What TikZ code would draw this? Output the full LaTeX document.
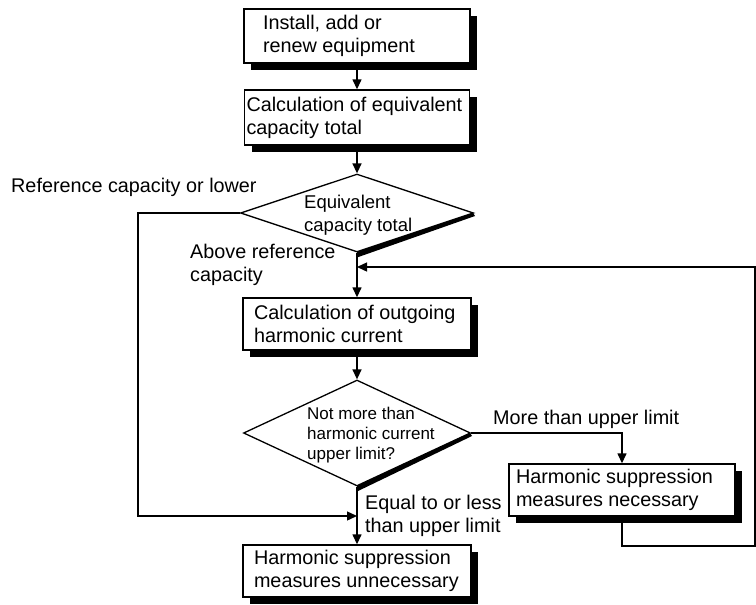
\documentclass[tikz,border=0pt]{standalone}
\usepackage{fontspec}
\setmainfont{Liberation Sans}
\usetikzlibrary{arrows.meta,shapes.geometric,shadows}
\begin{document}
\begin{tikzpicture}[x=1pt,y=-1pt,
  txt/.style={font=\fontsize{19.8}{23}\selectfont},
  box/.style={txt, draw, line width=1.4pt, fill=white, rectangle, align=flush left,
    inner ysep=0pt, general shadow={fill=black, shadow xshift=7pt, shadow yshift=-7pt}},
  dia/.style={draw, line width=1.3pt, diamond, inner sep=0pt},
  lab/.style={txt, inner sep=0pt, align=flush left},
  arr/.style={line width=1.4pt, -{Triangle[length=10pt,width=9pt]}},
  ln/.style={line width=1.4pt}]
\useasboundingbox (0,0) rectangle (756,605);

% boxes
\node[box, text width=188pt, inner xsep=19pt, minimum height=54pt] (b1) at (357,36) {Install, add or\\renew equipment};
\node[box, text width=221pt, inner xsep=2pt, minimum height=55pt] (b2) at (357,117.5) {Calculation of equivalent\\capacity total};
\node[box, text width=206pt, inner xsep=11pt, minimum height=52pt] (b3) at (357,324) {Calculation of outgoing\\harmonic current};
\node[box, text width=212pt, inner xsep=7pt, minimum height=52pt] (b4) at (622,490) {Harmonic suppression\\measures necessary};
\node[box, text width=206pt, inner xsep=11pt, minimum height=52pt] (b5) at (357,571) {Harmonic suppression\\measures unnecessary};

% diamonds
\fill (357,252) -- (473,213) -- (475,216) -- (357,257.5) -- cycle;
\node[dia, minimum width=233pt, minimum height=78pt] (d1) at (357,213) {};
\node[lab, font=\fontsize{18.5}{23}\selectfont, anchor=west] (d1t) at (304,215) {Equivalent\\capacity total};

\fill (357,486) -- (470,433) -- (472,436) -- (357,491.5) -- cycle;
\node[dia, minimum width=227pt, minimum height=106pt] (d2) at (357,433) {};
\node[lab, font=\fontsize{17}{20}\selectfont, anchor=west] (d2t) at (307,435.5) {Not more than\\harmonic current\\upper limit?};

% labels
\node[lab, anchor=base west] (l1) at (11,192) {Reference capacity or lower};
\node[lab, anchor=west] (l2) at (190,265) {Above reference\\capacity};
\node[lab, anchor=base west] (l3) at (493,424) {More than upper limit};
\node[lab, anchor=west] (l4) at (365,516) {Equal to or less\\than upper limit};

% coordinates
\coordinate (lc) at (138,516);
\coordinate (m1) at (357,516);
\coordinate (rc) at (755,546);
\coordinate (m2) at (357,267);

% connectors
\draw[arr] (b1) -- (b2);
\draw[arr] (b2) -- (d1);
\draw[arr] (d1) -- (b3);
\draw[arr] (b3) -- (d2);
\draw[arr] (d2) -- (b5);
\draw[arr] (d1.west) -| (lc) -- (m1);
\draw[arr] (d2.east) -| (b4.north);
\draw[arr] (b4.south) |- (rc) |- (m2);
\end{tikzpicture}
\end{document}
